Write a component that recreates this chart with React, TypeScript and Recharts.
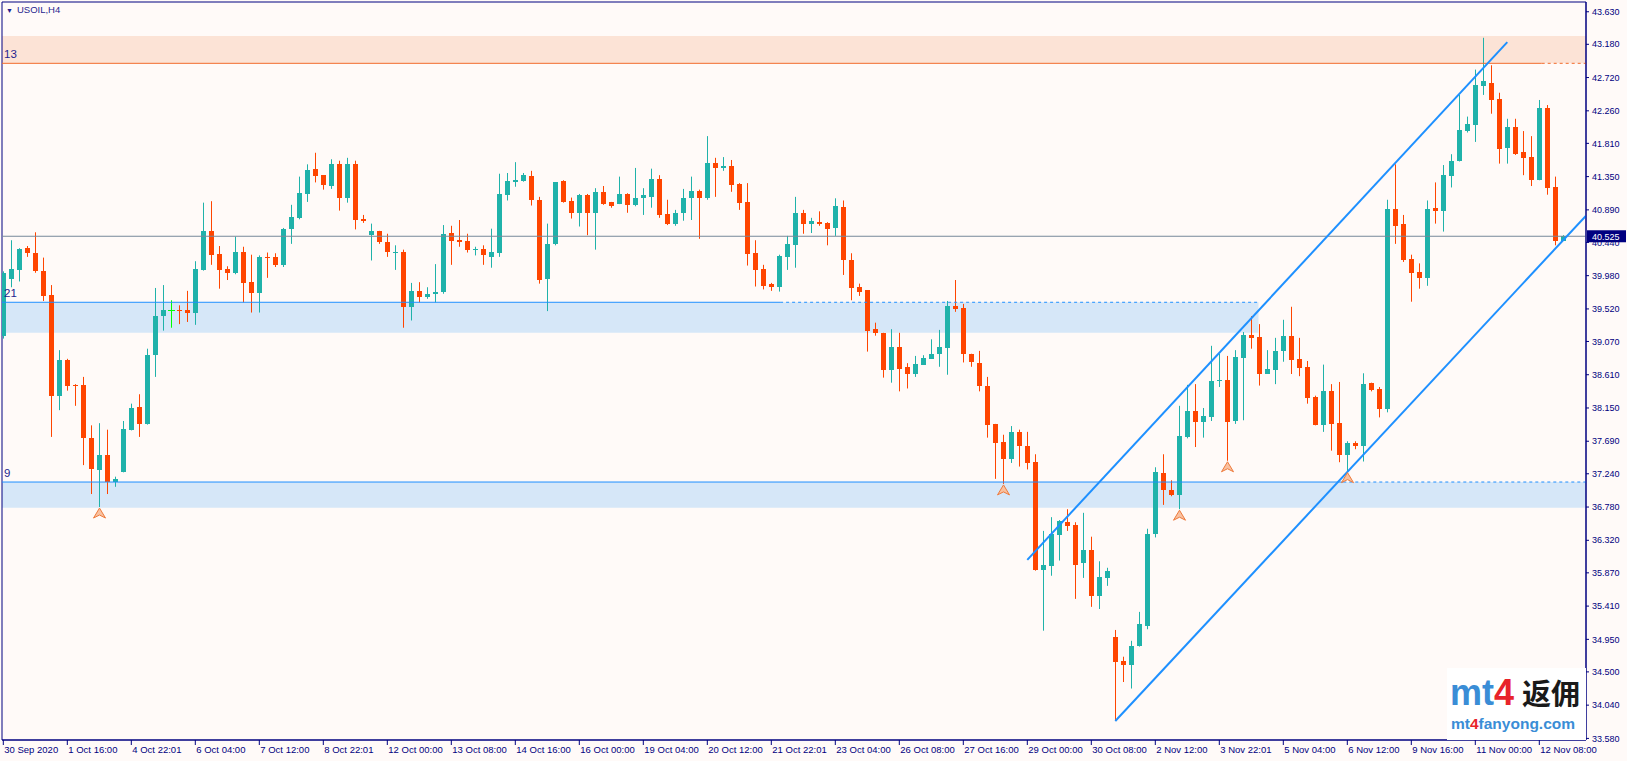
import React from "react";
import {
  ComposedChart,
  XAxis,
  YAxis,
  Bar,
  Scatter,
  ReferenceArea,
  ReferenceLine,
  ReferenceDot,
} from "recharts";

// H4 bar labels on the time axis, one every 8 bars
const timeLabels = [
  "30 Sep 2020", "1 Oct 16:00", "4 Oct 22:01", "6 Oct 04:00", "7 Oct 12:00",
  "8 Oct 22:01", "12 Oct 00:00", "13 Oct 08:00", "14 Oct 16:00", "16 Oct 00:00",
  "19 Oct 04:00", "20 Oct 12:00", "21 Oct 22:01", "23 Oct 04:00", "26 Oct 08:00",
  "27 Oct 16:00", "29 Oct 00:00", "30 Oct 08:00", "2 Nov 12:00", "3 Nov 22:01",
  "5 Nov 04:00", "6 Nov 12:00", "9 Nov 16:00", "11 Nov 00:00", "12 Nov 08:00",
];

const priceTicks = [
  43.63, 43.18, 42.72, 42.26, 41.81, 41.35, 40.89, 40.44, 39.98, 39.52, 39.07, 38.61,
  38.15, 37.69, 37.24, 36.78, 36.32, 35.87, 35.41, 34.95, 34.5, 34.04, 33.58,
];

// USOIL H4 candles
const opens = [
  39.14, 39.93, 40.06, 40.36, 40.29, 40.04, 39.71, 38.32, 38.81, 38.47, 38.47, 37.74, 37.29, 37.5, 37.13, 37.27,
  37.85, 38.16, 37.93, 38.88, 39.42, 39.51, 39.51, 39.51, 39.47, 40.06, 40.6, 40.28, 40.07, 40.01, 40.31, 39.89,
  39.74, 40.24, 40.24, 40.13, 40.62, 40.78, 41.11, 41.46, 41.37, 41.22, 41.53, 41.06, 41.53, 40.76, 40.54, 40.6,
  40.45, 40.3, 40.31, 39.55, 39.77, 39.69, 39.73, 39.75, 40.57, 40.47, 40.46, 40.33, 40.35, 40.24, 40.3, 41.1,
  41.28, 41.29, 41.36, 41.03, 39.93, 40.42, 41.29, 41.01, 40.85, 41.1, 40.84, 41.14, 41.0, 40.97, 41.11, 40.96,
  41.05, 41.07, 41.32, 40.83, 40.7, 40.84, 41.05, 41.15, 41.06, 41.54, 41.47, 41.5, 41.25, 41.0, 40.29, 40.07,
  39.86, 39.83, 40.24, 40.4, 40.85, 40.7, 40.72, 40.71, 40.64, 40.93, 40.2, 39.82, 39.78, 39.24, 39.19, 38.67,
  38.99, 38.72, 38.62, 38.75, 38.83, 38.89, 38.98, 39.56, 39.53, 38.9, 38.77, 38.45, 37.93, 37.68, 37.45, 37.82,
  37.62, 37.4, 35.91, 35.97, 36.4, 36.57, 36.53, 36.0, 36.19, 35.55, 35.8, 34.98, 34.65, 34.59, 34.86, 35.14,
  36.41, 37.25, 37.02, 36.95, 37.75, 38.11, 37.96, 38.03, 38.53, 38.54, 37.97, 38.84, 39.16, 39.13, 38.62, 38.68,
  38.94, 39.15, 38.83, 38.72, 38.3, 37.92, 38.39, 37.94, 37.5, 37.67, 37.62, 38.5, 38.41, 38.14, 40.9, 40.7,
  40.21, 40.03, 39.95, 40.92, 40.88, 41.36, 41.56, 41.98, 42.06, 42.6, 42.65, 42.42, 41.75, 42.04, 41.69, 41.62,
  41.3, 42.3, 41.21, 40.46,
];
const highs = [
  40.04, 40.47, 40.36, 40.39, 40.58, 40.23, 39.85, 38.95, 38.83, 38.48, 38.58, 37.91, 37.94, 37.85, 37.2, 37.97,
  38.21, 38.34, 38.97, 39.81, 39.85, 39.64, 39.57, 39.77, 40.18, 40.99, 41.01, 40.39, 40.11, 40.52, 40.38, 40.27,
  40.26, 40.3, 40.29, 40.64, 40.96, 41.35, 41.52, 41.68, 41.37, 41.59, 41.57, 41.61, 41.57, 40.82, 40.7, 40.6,
  40.56, 40.4, 40.34, 39.88, 39.89, 39.82, 40.14, 40.68, 40.67, 40.75, 40.56, 40.38, 40.4, 40.63, 41.39, 41.4,
  41.55, 41.4, 41.43, 41.07, 40.7, 41.27, 41.3, 41.06, 41.11, 41.11, 41.19, 41.22, 41.0, 41.35, 41.12, 41.47,
  41.19, 41.46, 41.37, 41.03, 40.89, 41.18, 41.35, 41.17, 41.91, 41.61, 41.62, 41.58, 41.26, 41.26, 40.47, 40.13,
  39.88, 40.27, 40.53, 41.07, 40.89, 40.78, 40.87, 40.72, 41.05, 41.02, 40.29, 39.87, 39.78, 39.33, 39.19, 39.24,
  39.19, 38.77, 38.87, 38.88, 39.1, 39.23, 39.63, 39.92, 39.59, 38.9, 38.94, 38.58, 37.93, 37.78, 37.9, 37.85,
  37.82, 37.51, 36.45, 36.64, 36.6, 36.75, 36.57, 36.7, 36.37, 36.03, 35.94, 35.08, 34.71, 34.93, 35.33, 36.48,
  37.33, 37.51, 37.15, 38.18, 38.47, 38.48, 38.15, 39.01, 38.9, 38.87, 38.95, 39.2, 39.42, 39.31, 38.95, 39.12,
  39.37, 39.55, 39.12, 38.8, 38.32, 38.75, 38.48, 38.51, 37.69, 37.69, 38.63, 38.5, 38.44, 41.03, 41.52, 40.82,
  40.27, 40.15, 41.02, 41.27, 41.51, 41.66, 42.48, 42.18, 42.83, 43.27, 42.89, 42.51, 42.15, 42.15, 41.98, 41.91,
  42.41, 42.34, 41.35, 40.54,
];
const lows = [
  39.11, 39.82, 39.9, 40.24, 40.02, 39.63, 37.75, 38.12, 38.39, 38.18, 37.36, 36.96, 36.78, 36.96, 37.06, 37.26,
  37.84, 37.75, 37.92, 38.58, 39.22, 39.26, 39.31, 39.34, 39.3, 40.05, 40.13, 39.8, 39.92, 40.0, 39.61, 39.47,
  39.47, 39.95, 40.1, 40.1, 40.42, 40.76, 41.0, 41.27, 41.17, 41.18, 40.88, 40.99, 40.62, 40.71, 40.19, 40.42,
  40.24, 40.06, 39.26, 39.36, 39.61, 39.66, 39.61, 39.73, 40.13, 40.38, 40.3, 40.26, 40.13, 40.09, 40.24, 41.02,
  41.21, 41.28, 40.95, 39.87, 39.49, 40.4, 40.99, 40.77, 40.66, 40.54, 40.34, 40.96, 40.92, 40.97, 40.85, 40.94,
  40.82, 40.92, 40.78, 40.68, 40.67, 40.74, 40.75, 40.49, 41.03, 41.07, 41.43, 41.14, 40.89, 40.12, 39.83, 39.79,
  39.77, 39.76, 40.06, 40.09, 40.56, 40.57, 40.67, 40.4, 40.53, 39.99, 39.64, 39.7, 38.93, 39.15, 38.57, 38.5,
  38.38, 38.42, 38.58, 38.75, 38.83, 38.72, 38.61, 39.48, 38.78, 38.72, 38.38, 37.74, 37.17, 37.1, 37.39, 37.34,
  37.3, 35.9, 35.07, 35.83, 36.04, 36.45, 35.51, 35.8, 35.4, 35.37, 35.69, 33.82, 34.36, 34.27, 34.85, 35.09,
  36.36, 36.81, 36.93, 36.75, 37.73, 37.61, 37.74, 37.97, 38.44, 37.42, 37.93, 37.98, 38.97, 38.46, 38.62, 38.48,
  38.79, 38.62, 38.59, 38.21, 37.91, 37.82, 37.56, 37.4, 37.27, 37.58, 37.41, 38.38, 38.02, 38.09, 40.42, 40.17,
  39.62, 39.8, 39.84, 40.7, 40.59, 41.2, 41.56, 41.96, 41.83, 42.48, 42.22, 41.53, 41.53, 41.65, 41.37, 41.22,
  41.3, 41.1, 40.4, 40.46,
];
const closes = [
  40.01, 40.07, 40.35, 40.29, 40.04, 39.7, 38.32, 38.81, 38.45, 38.45, 37.73, 37.31, 37.5, 37.13, 37.17, 37.86,
  38.15, 37.93, 38.88, 39.42, 39.51, 39.51, 39.49, 39.47, 40.07, 40.6, 40.27, 40.06, 40.01, 40.31, 39.88, 39.74,
  40.24, 40.23, 40.13, 40.62, 40.79, 41.12, 41.44, 41.36, 41.24, 41.53, 41.05, 41.53, 40.75, 40.73, 40.6, 40.44,
  40.31, 40.31, 39.54, 39.77, 39.69, 39.73, 39.76, 40.56, 40.46, 40.45, 40.33, 40.35, 40.26, 40.31, 41.11, 41.29,
  41.3, 41.37, 41.02, 39.92, 40.42, 41.27, 41.0, 40.85, 41.1, 40.84, 41.14, 40.97, 40.95, 41.11, 40.96, 41.05,
  41.1, 41.32, 40.82, 40.69, 40.85, 41.06, 41.15, 41.05, 41.54, 41.47, 41.5, 41.24, 40.99, 40.28, 40.06, 39.84,
  39.83, 40.25, 40.42, 40.85, 40.7, 40.74, 40.7, 40.62, 40.95, 40.19, 39.81, 39.75, 39.21, 39.19, 38.68, 38.99,
  38.69, 38.62, 38.76, 38.84, 38.9, 38.99, 39.56, 39.52, 38.89, 38.78, 38.46, 37.92, 37.67, 37.45, 37.82, 37.62,
  37.39, 35.91, 35.98, 36.41, 36.59, 36.52, 35.98, 36.19, 35.55, 35.81, 35.9, 34.64, 34.59, 34.86, 35.16, 36.41,
  37.27, 37.01, 36.95, 37.76, 38.11, 37.96, 38.04, 38.52, 38.54, 37.96, 38.86, 39.16, 39.12, 38.62, 38.69, 38.94,
  39.15, 38.81, 38.7, 38.29, 37.92, 38.39, 37.93, 37.5, 37.66, 37.63, 38.48, 38.4, 38.14, 40.9, 40.67, 40.19,
  40.02, 39.95, 40.9, 40.88, 41.37, 41.57, 42.0, 42.08, 42.62, 42.67, 42.41, 41.73, 42.04, 41.66, 41.61, 41.3,
  42.3, 41.19, 40.46, 40.53,
];

// bars carrying the fractal arrow under their low
const fractalBars = [12, 125, 147, 153, 168];

const lastPrice = 40.525;
// "13" supply box, "21" and "9" demand boxes (price top / bottom, bar index where the box ends)
const box13 = { top: 43.295, bottom: 42.917, solidTo: 192.3 };
const box21 = { top: 39.612, bottom: 39.191, solidTo: 97.1, end: 156.9 };
const box9 = { top: 37.126, bottom: 36.771, solidTo: 167.5 };
// rising channel, [bar index, price]
const channelUpper = [
  { x: 128, y: 36.05 },
  { x: 188, y: 43.21 },
];
const channelLower = [
  { x: 139, y: 33.82 },
  { x: 197.84, y: 40.81 },
];

const X_MIN = -0.1625;
const X_MAX = 197.8375;
const Y_MIN = 33.558;
const Y_MAX = 43.765;

const NAVY = "#000080";
const UP = "#20B2AA";
const DOWN = "#FF4500";
const DOJI = "#00FF00";
const BLUE = "#1E90FF";
const ORANGE = "#F26B2B";
const FONT = "'Liberation Sans', Arial, sans-serif";

function Candle(props: any) {
  const { x, y, width, height, payload } = props;
  if (!payload || height == null || isNaN(y)) return null;
  const { o, h, l, c } = payload;
  const k = height / (h - l);
  const py = (v: number) => y + (h - v) * k;
  const cx = Math.round(x + width / 2);
  const color = c === o ? DOJI : c > o ? UP : DOWN;
  const top = Math.round(py(Math.max(o, c)));
  const bot = Math.round(py(Math.min(o, c)));
  if (c === o) {
    return (
      <g>
        <rect x={cx} y={y} width={1} height={height} fill={color} />
        <rect x={cx - 3} y={top} width={7} height={1} fill={color} />
      </g>
    );
  }
  return (
    <g>
      <rect x={cx} y={y} width={1} height={height} fill={color} />
      <rect x={cx - 2} y={top} width={5} height={Math.max(1, bot - top)} fill={color} />
    </g>
  );
}

function Fractal(props: any) {
  const { cx, cy } = props;
  if (cx == null) return null;
  const x = Math.round(cx) + 0.5;
  const t = cy + 1;
  return (
    <path
      d={`M${x},${t} L${x - 6},${t + 10} L${x},${t + 7} L${x + 6},${t + 10} Z`}
      fill="#F9C1A0"
      stroke="#EE7A3C"
      strokeWidth={1}
    />
  );
}

function TimeTick(props: any) {
  const { x, y, payload } = props;
  const label = timeLabels[Math.round(payload.value / 8)];
  return (
    <text x={x + 1} y={y + 8} fill={NAVY} fontSize={9.5} fontFamily={FONT}>
      {label}
    </text>
  );
}

const levelLabel = (text: string) => (p: any) =>
  (
    <text x={p.cx + 2} y={p.cy - 5} fill="#1F1F8F" fontSize={11.5} fontFamily={FONT}>
      {text}
    </text>
  );

function PriceBox(p: any) {
  return (
    <g>
      <rect x={p.cx + 1} y={p.cy - 6} width={39} height={12} fill={NAVY} />
      <text x={p.cx + 6} y={p.cy + 3.5} fill="#FFFFFF" fontSize={9} fontFamily={FONT}>
        {lastPrice.toFixed(3)}
      </text>
    </g>
  );
}

export default function App() {
  const rows = opens.map((o, i) => ({ i, o, h: highs[i], l: lows[i], c: closes[i] }));
  const marks = fractalBars.map((i) => ({ i, p: lows[i] }));
  const timeTicks = timeLabels.map((_, k) => k * 8);

  return (
    <div
      style={{
        position: "absolute",
        left: 0,
        top: 0,
        width: 1627,
        height: 761,
        background: "#FFFAF8",
        overflow: "hidden",
        fontFamily: FONT,
      }}
    >
      <ComposedChart width={1627} height={761} data={rows} margin={{ top: 2, right: 0, bottom: 0, left: 2 }}>
        <XAxis
          type="number"
          dataKey="i"
          domain={[X_MIN, X_MAX]}
          allowDataOverflow
          ticks={timeTicks}
          interval={0}
          height={21}
          tickSize={5}
          tickMargin={0}
          stroke={NAVY}
          tick={<TimeTick />}
        />
        <YAxis
          orientation="right"
          type="number"
          domain={[Y_MIN, Y_MAX]}
          allowDataOverflow
          ticks={priceTicks}
          interval={0}
          width={41}
          tickSize={3}
          tickMargin={3}
          stroke={NAVY}
          tick={{ fill: NAVY, fontSize: 9, fontFamily: FONT }}
          tickFormatter={(v: number) => v.toFixed(3)}
        />

        <ReferenceArea x1={X_MIN} x2={X_MAX} y1={box13.bottom} y2={box13.top} fill="#FCE3D6" fillOpacity={1} stroke="none" />
        <ReferenceArea x1={X_MIN} x2={box21.end} y1={box21.bottom} y2={box21.top} fill="#D6E7F8" fillOpacity={1} stroke="none" />
        <ReferenceArea x1={X_MIN} x2={X_MAX} y1={box9.bottom} y2={box9.top} fill="#D6E7F8" fillOpacity={1} stroke="none" />

        <ReferenceLine y={lastPrice} stroke="#778899" strokeWidth={1} />

        <ReferenceLine segment={[{ x: X_MIN, y: box13.bottom }, { x: box13.solidTo, y: box13.bottom }]} stroke={ORANGE} />
        <ReferenceLine segment={[{ x: box13.solidTo, y: box13.bottom }, { x: X_MAX, y: box13.bottom }]} stroke={ORANGE} strokeDasharray="3 3" />
        <ReferenceLine segment={[{ x: X_MIN, y: box21.top }, { x: box21.solidTo, y: box21.top }]} stroke={BLUE} />
        <ReferenceLine segment={[{ x: box21.solidTo, y: box21.top }, { x: box21.end, y: box21.top }]} stroke={BLUE} strokeDasharray="3 3" />
        <ReferenceLine segment={[{ x: X_MIN, y: box9.top }, { x: box9.solidTo, y: box9.top }]} stroke={BLUE} />
        <ReferenceLine segment={[{ x: box9.solidTo, y: box9.top }, { x: X_MAX, y: box9.top }]} stroke={BLUE} strokeDasharray="3 3" />

        <ReferenceLine segment={channelUpper} stroke={BLUE} strokeWidth={2} ifOverflow="hidden" />
        <ReferenceLine segment={channelLower} stroke={BLUE} strokeWidth={2} ifOverflow="hidden" />

        <Bar dataKey={(d: any) => [d.l, d.h]} barSize={5} shape={<Candle />} isAnimationActive={false} />
        <Scatter data={marks} dataKey="p" shape={<Fractal />} isAnimationActive={false} />

        <ReferenceDot x={X_MIN} y={box13.bottom} r={0} ifOverflow="visible" shape={levelLabel("13")} />
        <ReferenceDot x={X_MIN} y={box21.top} r={0} ifOverflow="visible" shape={levelLabel("21")} />
        <ReferenceDot x={X_MIN} y={box9.top} r={0} ifOverflow="visible" shape={levelLabel("9")} />
        <ReferenceDot x={X_MAX} y={lastPrice} r={0} ifOverflow="visible" shape={PriceBox} />

        <ReferenceArea x1={X_MIN} x2={X_MAX} y1={Y_MIN} y2={Y_MAX} fill="none" stroke={NAVY} strokeWidth={1} ifOverflow="visible" />
      </ComposedChart>

      <div
        style={{
          position: "absolute",
          left: 6,
          top: 4,
          fontSize: 9.5,
          color: "#1F1F8F",
          fontFamily: FONT,
          whiteSpace: "nowrap",
        }}
      >
        <span style={{ fontSize: 7, marginRight: 4 }}>▼</span>USOIL,H4
      </div>

      <div
        style={{
          position: "absolute",
          left: 1447,
          top: 668,
          width: 139,
          height: 72,
          background: "#FFFFFF",
        }}
      >
        <div
          style={{
            position: "absolute",
            left: 3,
            top: 4,
            whiteSpace: "nowrap",
            lineHeight: "40px",
          }}
        >
          <span style={{ fontFamily: FONT, fontWeight: 700, fontSize: 36, color: "#3A8DD6" }}>mt</span>
          <span style={{ fontFamily: FONT, fontWeight: 700, fontSize: 36, color: "#E8242A" }}>4</span>
          <span
            style={{
              fontFamily: "'Noto Sans CJK SC', sans-serif",
              fontWeight: 700,
              fontSize: 29,
              color: "#1A1A1A",
              marginLeft: 8,
            }}
          >
            返佣
          </span>
        </div>
        <div
          style={{
            position: "absolute",
            left: 4,
            top: 47,
            whiteSpace: "nowrap",
            fontFamily: FONT,
            fontWeight: 700,
            fontSize: 15.5,
            color: "#3A8DD6",
            lineHeight: "18px",
          }}
        >
          mt<span style={{ color: "#E8242A" }}>4</span>fanyong.com
        </div>
      </div>
    </div>
  );
}
